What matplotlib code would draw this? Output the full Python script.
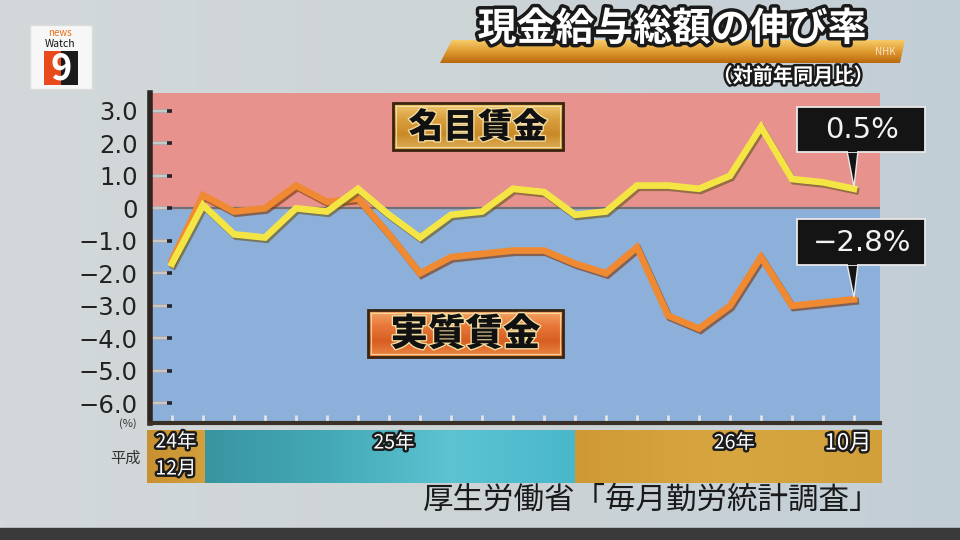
import numpy as np
import matplotlib
matplotlib.use('Agg')
import matplotlib.pyplot as plt
from matplotlib import patheffects as pe
from matplotlib.patches import Rectangle, Polygon
from matplotlib.colors import LinearSegmentedColormap
from matplotlib.ticker import FixedLocator

plt.rcParams['font.family'] = ['Noto Sans CJK JP', 'DejaVu Sans']

# ---------------- data ----------------
# months: 平成24年12月 ... 平成26年10月 (23 months)
month_labels = ['24年12月'] + [f'25年{m}月' for m in range(1, 13)] + [f'26年{m}月' for m in range(1, 11)]
nominal = [-1.7, 0.1, -0.8, -0.9, 0.0, -0.1, 0.6, -0.2, -0.9, -0.2, -0.1, 0.6,
           0.5, -0.2, -0.1, 0.7, 0.7, 0.6, 1.0, 2.5, 0.9, 0.8, 0.6]
real = [-1.6, 0.4, -0.1, 0.0, 0.7, 0.2, 0.3, -0.8, -2.0, -1.5, -1.4, -1.3,
        -1.3, -1.7, -2.0, -1.2, -3.3, -3.7, -3.0, -1.5, -3.0, -2.9, -2.8]
y_ticks = [3, 2, 1, 0, -1, -2, -3, -4, -5, -6]
y_tick_labels = ['3.0', '2.0', '1.0', '0', '−1.0', '−2.0', '−3.0', '−4.0', '−5.0', '−6.0']
latest_nominal_label = '0.5%'
latest_real_label = '−2.8%'
year_start_index = {'25年': 1, '26年': 13}

# ---------------- layout helpers ----------------
W, H = 960, 540
def rect(x0, y0, x1, y1):
    return [x0 / W, 1 - y1 / H, (x1 - x0) / W, (y1 - y0) / H]

fig = plt.figure(figsize=(9.6, 5.4), dpi=100)
fig.patch.set_facecolor('#cdd5d9')

# background gradient
bg = fig.add_axes([0, 0, 1, 1], zorder=-10)
bg.imshow(np.linspace(0, 1, 256)[None, :],
          cmap=LinearSegmentedColormap.from_list('bg', ['#d3d9da', '#cdd4d6', '#c2ced6']),
          extent=(0, 1, 0, 1), aspect='auto', interpolation='bilinear')
bg.set_xlim(0, 1); bg.set_ylim(0, 1); bg.axis('off')

# main axes
ax = fig.add_axes(rect(150, 93, 880, 423))
x = np.arange(len(month_labels))
ax.set_xlim((150 - 172) / 31, (880 - 172) / 31)
ax.set_ylim((208.3 - 423) / 32.5, (208.3 - 93) / 32.5)
ax.set_facecolor('#8db0da')
ax.axhspan(0, 10, color='#e8928d', zorder=0)
ax.axhline(0, color='#6e7276', lw=1.6, zorder=1)

ax.plot(x, real, color='#f08a32', lw=4.8, solid_joinstyle='miter', zorder=3,
        path_effects=[pe.SimpleLineShadow(offset=(1.2, -1.6), shadow_color='#7a3a10', alpha=0.65),
                      pe.Normal()])
ax.plot(x, nominal, color='#f4e545', lw=4.8, solid_joinstyle='miter', zorder=4,
        path_effects=[pe.SimpleLineShadow(offset=(1.2, -1.6), shadow_color='#6a5a20', alpha=0.65),
                      pe.Normal()])

for s in ['top', 'right']:
    ax.spines[s].set_visible(False)
ax.spines['left'].set_color('#2e2520'); ax.spines['left'].set_linewidth(4)
ax.spines['bottom'].set_color('#3a3028'); ax.spines['bottom'].set_linewidth(3)

ax.set_yticks(y_ticks, y_tick_labels)
ax.yaxis.set_minor_locator(FixedLocator(y_ticks))
ax.yaxis.remove_overlapping_locs = False
ax.tick_params(axis='y', which='major', direction='in', length=16, width=2.6,
               color='#25252e', pad=9, labelsize=17.5, labelcolor='#222222')
ax.tick_params(axis='y', which='minor', direction='in', length=12, width=2.6, color='#c8c8c8')
for lbl in ax.get_yticklabels():
    lbl.set_fontfamily(['DejaVu Sans'])
ax.set_xticks(x)
ax.tick_params(axis='x', direction='in', length=6, width=2, color='#e4e4e4', labelbottom=False)

# ---------------- overlay ----------------
ov = fig.add_axes([0, 0, 1, 1], zorder=10)
ov.patch.set_alpha(0)
ov.axis('off')

def to_px(xd, yd):
    disp = ax.transData.transform((xd, yd))
    return disp[0], H - disp[1]

def grad(x0, y0, x1, y1, colors, vertical=True, zorder=2, clip=None):
    cmap = LinearSegmentedColormap.from_list('g', colors)
    arr = np.linspace(0, 1, 256)
    img = arr[:, None] if vertical else arr[None, :]
    im = ov.imshow(img, cmap=cmap, extent=(x0, x1, y1, y0), origin='upper',
                   aspect='auto', zorder=zorder, interpolation='bilinear')
    if clip is not None:
        im.set_clip_path(clip)
    return im

outline = [pe.withStroke(linewidth=3.5, foreground='#1c1c1c')]

# bottom frame band
ov.add_patch(Rectangle((0, 528), 960, 12, color='#3a3a3a', zorder=1))

# x band (year bars)
b0 = 147
b1 = to_px(year_start_index['25年'], 0)[0] + 2
b2 = to_px(year_start_index['26年'], 0)[0]
b3 = 882
grad(b0, 430, b1, 483, ['#c89030', '#d3a03e'], vertical=False)
grad(b1, 430, b2, 483, ['#3895a0', '#44a9b6', '#5cc3d2', '#49b7cb'], vertical=False)
grad(b2, 430, b3, 483, ['#cf9a36', '#d8a640', '#d2a03a'], vertical=False)
band_txt = dict(color='white', path_effects=outline, ha='center', va='center', zorder=5)
ov.text((b0 + b1) / 2, 442, '24年', fontsize=14, **band_txt)
ov.text((b0 + b1) / 2, 469, '12月', fontsize=14, **band_txt)
ov.text((b1 + b2) / 2 + 4, 443, '25年', fontsize=14, **band_txt)
ov.text((b2 + b3) / 2 + 6, 443, '26年', fontsize=14, **band_txt)
ov.text(848, 443, '10月', fontsize=16, **band_txt)
ov.text(125, 458, '平成', fontsize=11, color='#333333', ha='center', va='center')
ov.text(128, 424, '(%)', fontsize=8, color='#333333', ha='center', va='center')

# source
ov.text(880, 500, '厚生労働省「毎月勤労統計調査」', fontsize=22, color='#1a1a1a',
        ha='right', va='center')

# title bar
bar = Polygon([(452, 40), (905, 40), (900, 63), (440, 63)], closed=True,
              facecolor='none', edgecolor='none')
ov.add_patch(bar)
grad(440, 40, 905, 63, ['#f6cc6a', '#e09a30', '#b8680e'], clip=bar)
ov.text(672, 29, '現金給与総額の伸び率', fontsize=28, fontweight='bold', color='white',
        ha='center', va='center', zorder=6,
        path_effects=[pe.withStroke(linewidth=5, foreground='#1a1a1a')])
ov.text(885, 52, 'NHK', fontsize=7, color='white', alpha=0.7, ha='center', va='center',
        zorder=6, fontstyle='italic')
ov.text(793, 76, '（対前年同月比）', fontsize=14.5, fontweight='bold', color='white',
        ha='center', va='center', zorder=6,
        path_effects=[pe.withStroke(linewidth=3.5, foreground='#1a1a1a')])

# logo
ov.add_patch(Rectangle((30, 25), 62, 64, facecolor='#f7f7f7', edgecolor='#dddddd', zorder=4))
ov.text(60, 33, 'news', fontsize=7, color='#e8701a', ha='center', va='center', zorder=5)
ov.text(60, 44, 'Watch', fontsize=7.5, color='#111111', ha='center', va='center', zorder=5)
ov.add_patch(Rectangle((44, 51), 34, 34, facecolor='#1b1b1b', zorder=4))
ov.add_patch(Rectangle((44, 51), 17, 34, facecolor='#e84a1a', zorder=4))
ov.text(61, 69, '9', fontsize=26, fontweight='bold', color='white', ha='center',
        va='center', zorder=5)

# series label boxes
def label_box(x0, y0, x1, y1, colors, text, fs):
    grad(x0, y0, x1, y1, colors, zorder=5)
    ov.add_patch(Rectangle((x0, y0), x1 - x0, y1 - y0, facecolor='none',
                           edgecolor='#3a2410', lw=2, zorder=6))
    ov.add_patch(Rectangle((x0 + 3, y0 + 3), x1 - x0 - 6, y1 - y0 - 6, facecolor='none',
                           edgecolor='#f7e6b0', lw=0.8, alpha=0.8, zorder=6))
    ov.text((x0 + x1) / 2, (y0 + y1) / 2 + 1, text, fontsize=fs, fontweight='black',
            color='#111111', ha='center', va='center', zorder=7,
            path_effects=[pe.withStroke(linewidth=2, foreground='#f3dca0')])

label_box(393, 103, 563, 150, ['#f0c870', '#d9a040', '#c98a28', '#e0b058'], '名目賃金', 25)
label_box(368, 310, 563, 357, ['#f2a868', '#e8783a', '#d85e22', '#e98a48'], '実質賃金', 27)

# callouts pointing to the latest points
def callout(y0, y1, xd, yd, text):
    tx, ty = to_px(xd, yd)
    ov.add_patch(Rectangle((797, y0), 128, y1 - y0, facecolor='#141414',
                           edgecolor='#e8e8e8', lw=1.3, zorder=8))
    ov.add_patch(Polygon([(tx - 7, y1 - 1), (tx + 4, y1 - 1), (tx, ty - 2)], closed=True,
                         facecolor='#141414', edgecolor='#e8e8e8', lw=1.0, zorder=7))
    ov.add_patch(Rectangle((tx - 6.3, y1 - 3), 9.6, 3, facecolor='#141414', zorder=9))
    ov.text(862, (y0 + y1) / 2 + 1, text, fontsize=21, color='#f2f2f2', ha='center',
            va='center', zorder=10, fontfamily=['DejaVu Sans'])

callout(107, 152, x[-1], nominal[-1], latest_nominal_label)
callout(219, 265, x[-1], real[-1], latest_real_label)

ov.set_xlim(0, 960)
ov.set_ylim(540, 0)
ov.set_aspect('auto')

fig.savefig('out.png', dpi=100)
